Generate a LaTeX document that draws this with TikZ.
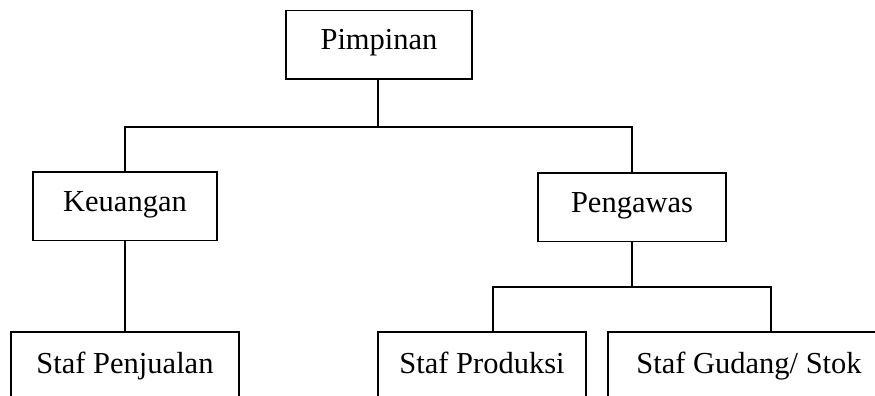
\documentclass[tikz,border=0pt]{standalone}
\usepackage{fontspec}
\setmainfont{Liberation Serif}
\begin{document}
\begin{tikzpicture}[x=1pt,y=-1pt,
  box/.style={draw, line width=1.8pt, inner sep=0pt, anchor=base, font=\fontsize{30.5}{36}\selectfont, text height=39.5pt, text depth=29pt},
  stafbox/.style={draw, line width=1.8pt, inner sep=0pt, anchor=base, font=\fontsize{30.5}{36}\selectfont, text height=41pt, text depth=70pt},
  link/.style={draw, line width=1.8pt}]
\clip (0,0) rectangle (875,396);
\fill[white] (0,0) rectangle (875,396);
\node[box, minimum width=186pt] (pim) at (379,50) {Pimpinan};
\node[box, minimum width=184pt] (keu) at (125,211.5) {Keuangan};
\node[box, minimum width=188pt] (peng) at (632,212.5) {Pengawas};
\node[stafbox, minimum width=228pt] (sp) at (125,373) {Staf Penjualan};
\node[stafbox, minimum width=208pt] (spr) at (482,373) {Staf Produksi};
\node[stafbox, minimum width=282pt] (sg) at (749,373) {Staf Gudang/ Stok};
\coordinate (j1) at (378,127);
\coordinate (j2) at (632,287);
\coordinate (l2) at (493,287);
\coordinate (r2) at (771,287);
\path[link] (pim.south -| j1) -- (j1);
\path[link] (keu.north) -- (keu.north |- j1) -- (peng.north |- j1) -- (peng.north);
\path[link] (keu.south) -- (sp.north -| keu.south);
\path[link] (peng.south) -- (j2);
\path[link] (spr.north -| l2) -- (l2) -- (r2) -- (sg.north -| r2);
\end{tikzpicture}
\end{document}
